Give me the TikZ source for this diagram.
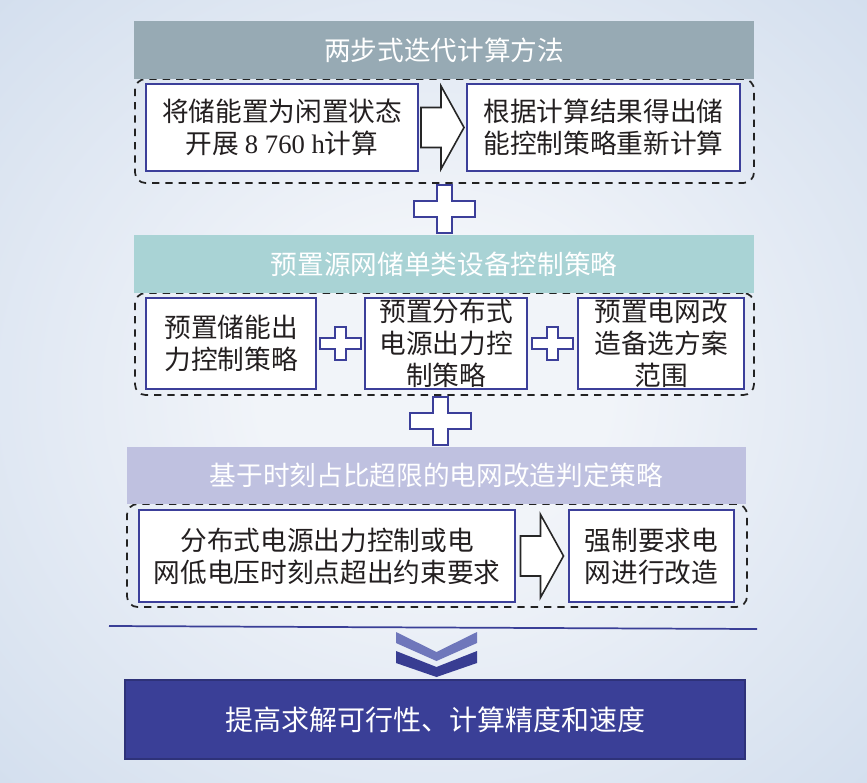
\documentclass[tikz,border=0pt]{standalone}
\usepackage{fontspec}
\setmainfont{Liberation Serif}
\newfontfamily\cjk{Noto Sans CJK SC}
\usetikzlibrary{calc}
\definecolor{bgcenter}{HTML}{F1F4F9}
\definecolor{bgedge}{HTML}{C3D3E8}
\definecolor{headgray}{HTML}{97AAB4}
\definecolor{headteal}{HTML}{A9D3D5}
\definecolor{headlav}{HTML}{BFC1E0}
\definecolor{boxblue}{HTML}{3C3F9A}
\definecolor{navy}{HTML}{3A3F97}
\definecolor{navysoft}{HTML}{6F77BB}
\definecolor{navydeep}{HTML}{383D92}
\definecolor{dashc}{HTML}{222222}
\definecolor{inkc}{HTML}{231F20}
\pgfdeclareradialshading{bgglow}{\pgfpoint{0bp}{0bp}}{color(0bp)=(bgcenter); color(10bp)=(bgcenter); color(50bp)=(bgedge); color(75bp)=(bgedge)}

\begin{document}
\begin{tikzpicture}[x=0.75pt, y=-0.75pt,
    head/.style={minimum width=465pt, minimum height=43.5pt, inner sep=0pt, text=white, font=\cjk\fontsize{20}{24}\selectfont},
    group/.style={draw=dashc, dash pattern=on 5.5pt off 4.5pt, line width=1.3pt, rounded corners=8pt, inner sep=0pt},
    cellbox/.style={draw=boxblue, line width=1.2pt, fill=white, align=center, inner sep=0pt, text=inkc, font=\cjk\fontsize{20}{24}\selectfont},
    plusline/.style={draw=boxblue, line width=1.3pt, fill=white},
    arrowline/.style={draw=black!85, line width=1.2pt, fill=white, line join=miter},
    pics/plusmark/.style n args={4}{code={
      \path[plusline] (-#1,-#2) -- (#1,-#2) -- (#1,-#4) -- (#3,-#4) -- (#3,#4) -- (#1,#4) -- (#1,#2)
        -- (-#1,#2) -- (-#1,#4) -- (-#3,#4) -- (-#3,-#4) -- (-#1,-#4) -- cycle;}},
    pics/blockarrow/.style={code={
      \path[arrowline] (-21.5,-20) -- (-1.5,-20) -- (-1.5,-41.5) -- (21.5,0) -- (-1.5,41.5) -- (-1.5,20) -- (-21.5,20) -- cycle;}}]
  \useasboundingbox (0,0) rectangle (867,782);
  \shade[shading=bgglow] (0,0) rectangle (867,782);

  % dashed groups
  \node[group, minimum width=464.25pt, minimum height=78pt] (g1) at (444.5,131) {};
  \node[group, minimum width=464.25pt, minimum height=76.5pt] (g2) at (444.5,344) {};
  \node[group, minimum width=465pt, minimum height=77.25pt] (g3) at (437,555.5) {};

  % headers
  \node[head, fill=headgray] (h1) at (444,50) {两步式迭代计算方法};
  \node[head, fill=headteal] (h2) at (444,264) {预置源网储单类设备控制策略};
  \node[head, fill=headlav, minimum width=464.25pt, minimum height=42.75pt] (h3) at (436.5,475.5) {基于时刻占比超限的电网改造判定策略};

  % step one
  \node[cellbox, minimum width=204pt, minimum height=65.25pt] (idle) at (282,127.5) {将储能置为闲置状态\\开展 {\rmfamily 8 760 h}计算};
  \node[cellbox, minimum width=204.75pt, minimum height=65.25pt] (recalc) at (603.5,127.5) {根据计算结果得出储\\能控制策略重新计算};
  \pic at ($(idle.east)!0.5!(recalc.west)$) {blockarrow};

  % preset strategies
  \node[cellbox, minimum width=127.5pt, minimum height=68.25pt] (storage) at (231,343.5) {预置储能出\\力控制策略};
  \node[cellbox, minimum width=121.5pt, minimum height=68.25pt] (dgen) at (446,343.5) {预置分布式\\电源出力控\\制策略};
  \node[cellbox, minimum width=124.5pt, minimum height=68.25pt] (grid) at (661,343.5) {预置电网改\\造备选方案\\范围};
  \pic at ($(storage.east)!0.5!(dgen.west)$) {plusmark={5.5}{16.5}{20.5}{5.5}};
  \pic at ($(dgen.east)!0.5!(grid.west)$) {plusmark={5.5}{16.5}{20.5}{5.5}};

  % judgement
  \node[cellbox, minimum width=282pt, minimum height=69pt] (over) at (327,556) {分布式电源出力控制或电\\网低电压时刻点超出约束要求};
  \node[cellbox, minimum width=123.75pt, minimum height=69pt] (rebuild) at (651.5,556) {强制要求电\\网进行改造};
  \pic at ($(over.east)!0.5!(rebuild.west)$) {blockarrow};

  \pic at ($(g1.south)!0.5!(h2.north)$) {plusmark={7.5}{24}{30.5}{8}};
  \pic at ($(g2.south)!0.5!(h3.north)$) {plusmark={7.5}{24}{30.5}{8}};

  % result
  \draw[navy, line width=1.3pt] (109,626) -- (757,629);
  \fill[navysoft] (396,632) -- (436.5,652) -- (477,632) -- (477,643) -- (436.5,661) -- (396,643) -- cycle;
  \fill[navydeep] (396,651) -- (436.5,667) -- (477,651) -- (477,663) -- (436.5,677) -- (396,663) -- cycle;
  \node[draw=navy!80!black, line width=0.8pt, fill=navy, minimum width=465pt, minimum height=59.25pt, inner sep=0pt,
    text=white, font=\cjk\fontsize{21}{25}\selectfont] (gain) at (435,719.5) {提高求解可行性、计算精度和速度};
\end{tikzpicture}
\end{document}
